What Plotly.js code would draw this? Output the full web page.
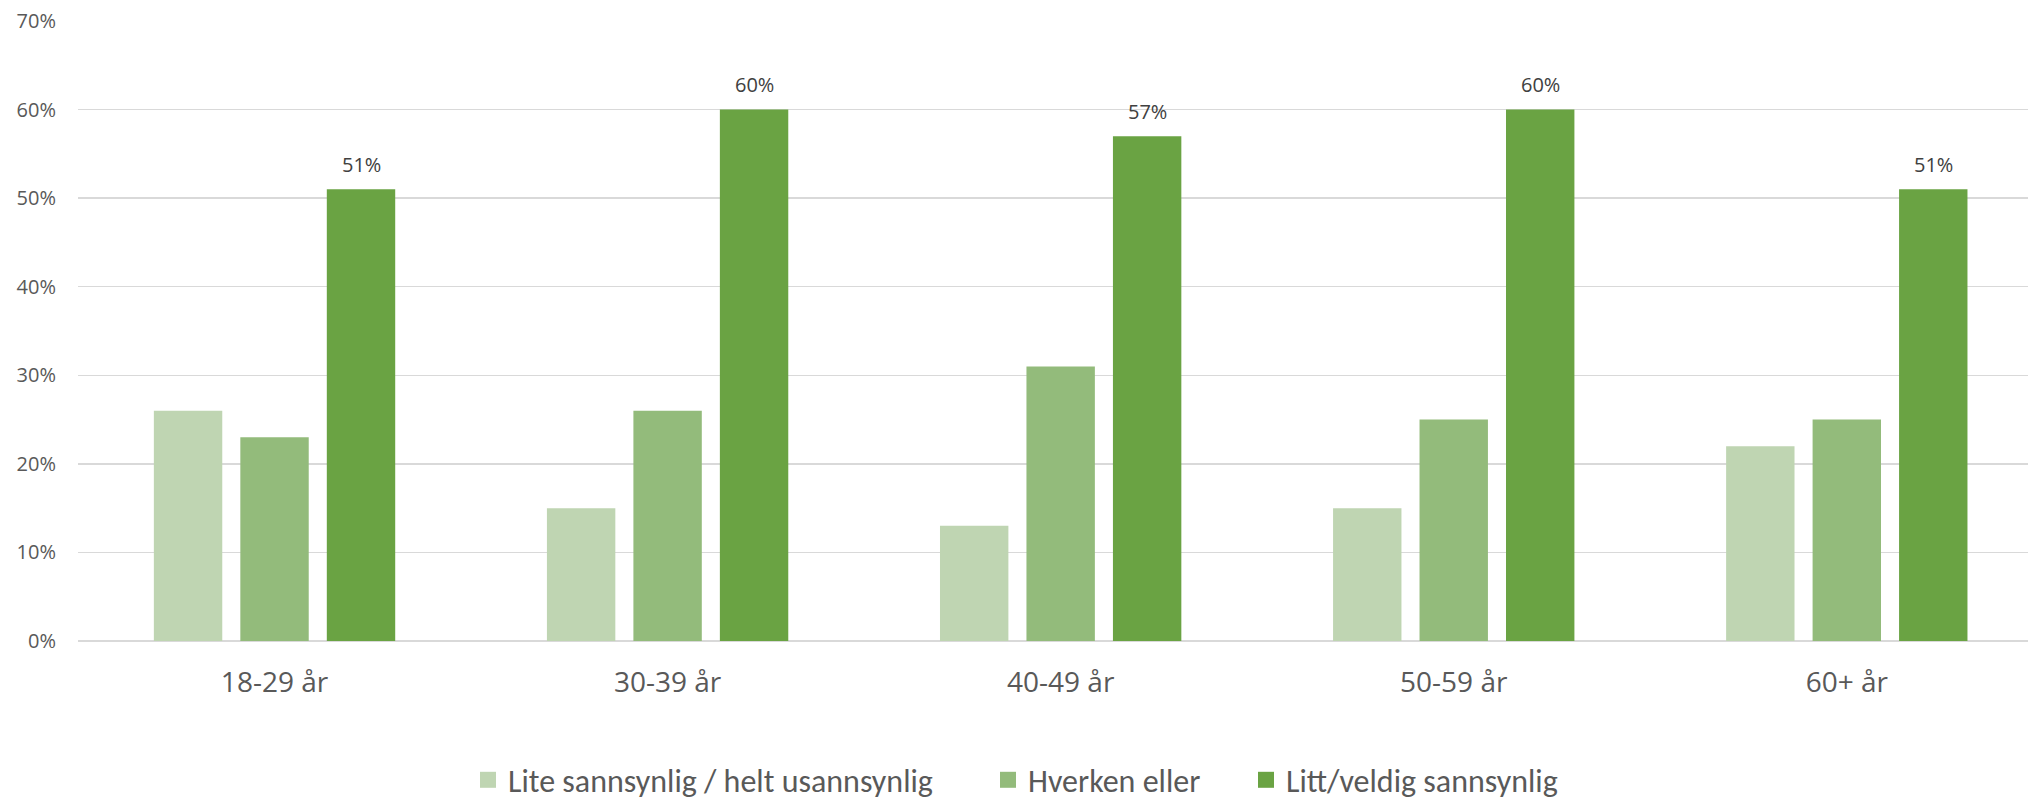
<!DOCTYPE html>
<html>
<head>
<meta charset="utf-8">
<script src="https://cdn.plot.ly/plotly-3.0.1.min.js"></script>
<style>
  html, body { margin: 0; padding: 0; background: #ffffff; }
  #chart { width: 2028px; height: 799px; }
</style>
</head>
<body>
<div id="chart"></div>
<script>
// Age groups on the x axis
const ageGroups = ['18-29 år', '30-39 år', '40-49 år', '50-59 år', '60+ år'];

// Answer categories and their shares (percent)
const seriesNames = ['Lite sannsynlig / helt usannsynlig', 'Hverken eller', 'Litt/veldig sannsynlig'];
const unlikely = [26, 15, 13, 15, 22];
const neither  = [23, 26, 31, 25, 25];
const likely   = [51, 60, 57, 60, 51];
const seriesValues = [unlikely, neither, likely];

const seriesColors = ['#bfd5b2', '#93bb7b', '#6aa343'];

const textColor = '#595959';
const gridColor = '#d9d9d9';

const BARGAP = 0.34;
const BARGROUPGAP = 0.209;
const FIG_W = 2028;
const FIG_H = 799;

// Bars (legend drawn by separate marker-only entries so the swatches are larger)
const barTraces = seriesValues.map((vals, i) => ({
  type: 'bar',
  name: seriesNames[i],
  x: ageGroups,
  y: vals,
  marker: { color: seriesColors[i], line: { width: 0 } },
  showlegend: false,
  hoverinfo: 'x+y+name'
}));

// One legend per entry, so each entry can sit at its own place along the bottom
const legendIds = ['legend', 'legend2', 'legend3'];
const legendLeft = [468, 988, 1246];

const legendTraces = seriesNames.map((name, i) => ({
  type: 'scatter',
  mode: 'markers',
  name: name,
  x: [null],
  y: [null],
  legend: legendIds[i],
  marker: { symbol: 'square', size: 18, color: seriesColors[i] },
  showlegend: true,
  hoverinfo: 'skip'
}));

// Value labels above the "likely" bars (third bar of each group)
const slot = (1 - BARGAP) / seriesValues.length;
const likelyOffset = slot * (2 - (seriesValues.length - 1) / 2);
const valueLabels = likely.map((v, i) => ({
  x: i + likelyOffset,
  y: v,
  xref: 'x',
  yref: 'y',
  text: v + '%',
  showarrow: false,
  yanchor: 'middle',
  yshift: 25,
  font: { family: '"Open Sans", sans-serif', size: 20, color: '#404040' }
}));

const legendBase = {
  orientation: 'h',
  xref: 'container',
  xanchor: 'left',
  yref: 'container',
  y: 19 / FIG_H,
  yanchor: 'middle',
  bgcolor: 'rgba(0,0,0,0)',
  font: { family: 'Carlito, Lato, sans-serif', size: 32, color: textColor },
  itemclick: false,
  itemdoubleclick: false
};

const layout = {
  width: FIG_W,
  height: FIG_H,
  margin: { l: 78, r: 0, t: 21, b: 158 },
  paper_bgcolor: '#ffffff',
  plot_bgcolor: '#ffffff',
  barmode: 'group',
  bargap: BARGAP,
  bargroupgap: BARGROUPGAP,
  showlegend: true,
  legend:  Object.assign({}, legendBase, { x: legendLeft[0] / FIG_W }),
  legend2: Object.assign({}, legendBase, { x: legendLeft[1] / FIG_W }),
  legend3: Object.assign({}, legendBase, { x: legendLeft[2] / FIG_W }),
  xaxis: {
    type: 'category',
    range: [-0.5, 4.461],
    showgrid: false,
    zeroline: false,
    showline: false,
    ticks: '',
    ticklabelstandoff: 22,
    tickfont: { family: '"Open Sans", sans-serif', size: 28, color: textColor },
    fixedrange: true
  },
  yaxis: {
    range: [0, 70],
    dtick: 10,
    tick0: 0,
    ticksuffix: '%',
    showgrid: true,
    gridcolor: gridColor,
    gridwidth: 1.3,
    zeroline: true,
    zerolinecolor: gridColor,
    zerolinewidth: 1.3,
    showline: false,
    ticks: '',
    ticklabelstandoff: 21,
    tickfont: { family: '"Open Sans", sans-serif', size: 20, color: textColor },
    fixedrange: true
  },
  annotations: valueLabels,
  font: { family: '"Open Sans", sans-serif', color: textColor }
};

Plotly.newPlot('chart', barTraces.concat(legendTraces), layout, { displayModeBar: false, staticPlot: true });
</script>
</body>
</html>
